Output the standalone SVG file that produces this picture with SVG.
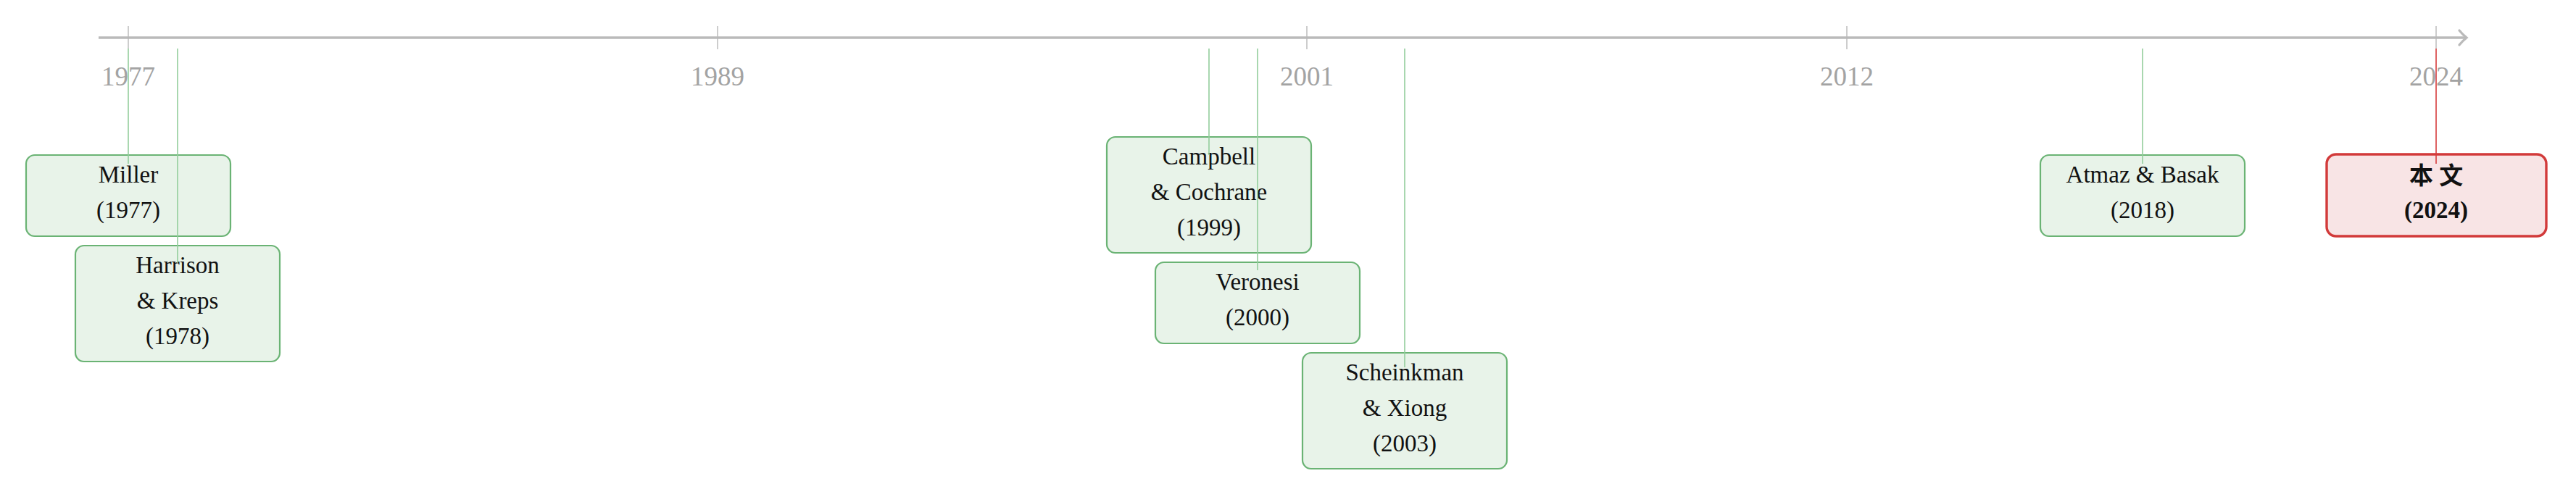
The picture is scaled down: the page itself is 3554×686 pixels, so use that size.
<svg xmlns="http://www.w3.org/2000/svg" width="3554" height="686" viewBox="0 0 3554 686">
<style>
.axis{stroke:#bababa;stroke-width:3.3;fill:none}
.tick{stroke:#b8b8b8;stroke-width:1.4}
.yr{font-family:"Liberation Serif",serif;font-size:37px;fill:#a3a3a3;text-anchor:middle}
.box{fill:#e8f3e9;stroke:#6ab374;stroke-width:2.2}
.boxr{fill:#f8e4e5;stroke:#d23a3a;stroke-width:3.4}
.t{font-family:"Liberation Serif","Noto Sans CJK SC",serif;font-size:33px;fill:#111;text-anchor:middle}
.b{font-weight:bold}
.con{stroke:#93cd9c;stroke-width:1.6}
.conr{stroke:#d63c3c;stroke-width:1.6}
</style>
<rect width="3554" height="686" fill="#fff"/>
<g id="axis">
<line class="axis" x1="136" y1="52" x2="3401" y2="52"/>
<path class="axis" d="M3393,42 Q3398,48 3403,52 Q3398,56 3393,62" stroke-linecap="round"/>
<line class="tick" x1="177" y1="36" x2="177" y2="67"/>
<line class="tick" x1="990" y1="36" x2="990" y2="68"/>
<line class="tick" x1="1803" y1="36" x2="1803" y2="68"/>
<line class="tick" x1="2548" y1="36" x2="2548" y2="68"/>
<line class="tick" x1="3361" y1="36" x2="3361" y2="67"/>
<text class="yr" x="177" y="118">1977</text>
<text class="yr" x="990" y="118">1989</text>
<text class="yr" x="1803" y="118">2001</text>
<text class="yr" x="2548" y="118">2012</text>
<text class="yr" x="3361" y="118">2024</text>
</g>
<g id="miller">
<rect class="box" x="36" y="214" width="282" height="112" rx="12"/>
<text class="t" x="177" y="252">Miller</text>
<text class="t" x="177" y="301">(1977)</text>
</g>
<g id="harrison">
<rect class="box" x="104" y="339" width="282" height="160" rx="12"/>
<text class="t" x="245" y="377">Harrison</text>
<text class="t" x="245" y="426">&amp; Kreps</text>
<text class="t" x="245" y="475">(1978)</text>
</g>
<g id="campbell">
<rect class="box" x="1527" y="189" width="282" height="160" rx="12"/>
<text class="t" x="1668" y="227">Campbell</text>
<text class="t" x="1668" y="276">&amp; Cochrane</text>
<text class="t" x="1668" y="325">(1999)</text>
</g>
<g id="veronesi">
<rect class="box" x="1594" y="362" width="282" height="112" rx="12"/>
<text class="t" x="1735" y="400">Veronesi</text>
<text class="t" x="1735" y="449">(2000)</text>
</g>
<g id="scheinkman">
<rect class="box" x="1797" y="487" width="282" height="160" rx="12"/>
<text class="t" x="1938" y="525">Scheinkman</text>
<text class="t" x="1938" y="574">&amp; Xiong</text>
<text class="t" x="1938" y="623">(2003)</text>
</g>
<g id="atmaz">
<rect class="box" x="2815" y="214" width="282" height="112" rx="12"/>
<text class="t" x="2956" y="252">Atmaz &amp; Basak</text>
<text class="t" x="2956" y="301">(2018)</text>
</g>
<g id="thispaper">
<rect class="boxr" x="3210" y="213" width="303" height="113" rx="13"/>
<text class="t b" x="3361" y="254" font-size="34">本 文</text>
<text class="t b" x="3361" y="301">(2024)</text>
</g>
<g id="connectors">
<line class="con" x1="177" y1="67" x2="177" y2="226"/>
<line class="con" x1="245" y1="67" x2="245" y2="363"/>
<line class="con" x1="1668" y1="67" x2="1668" y2="214"/>
<line class="con" x1="1735" y1="67" x2="1735" y2="373"/>
<line class="con" x1="1938" y1="67" x2="1938" y2="507"/>
<line class="con" x1="2956" y1="67" x2="2956" y2="226"/>
<line class="conr" x1="3361" y1="67" x2="3361" y2="226"/>
</g>
</svg>
